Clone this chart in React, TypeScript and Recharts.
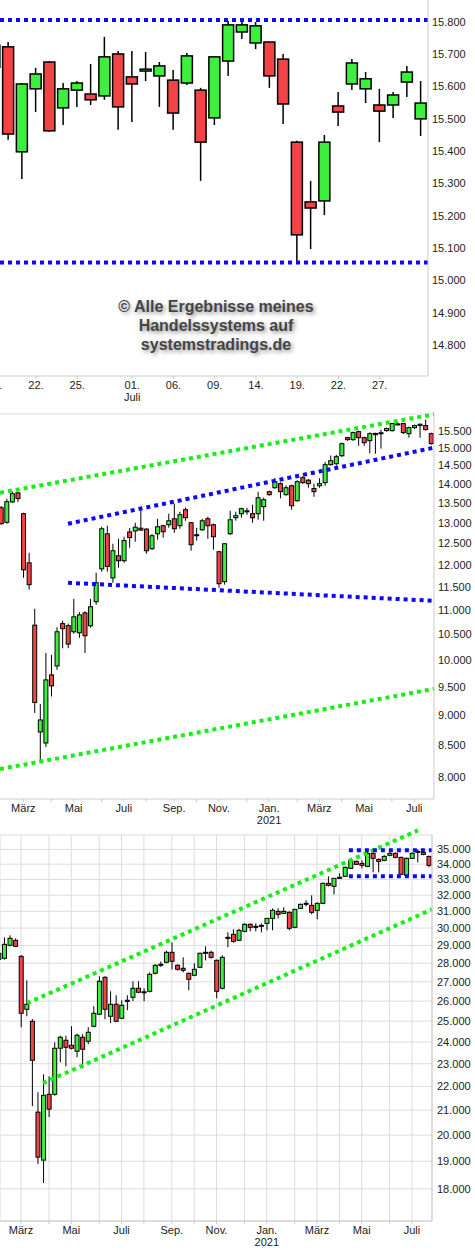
import React from 'react';
import { ComposedChart, Bar, XAxis, YAxis, ReferenceLine, CartesianGrid } from 'recharts';

const FONT = '"Liberation Sans", Arial, sans-serif';
const UP = '#3df03d';
const DOWN = '#f24444';
const BLUE = '#0a0af5';
const GREEN = '#14f014';
const AXIS = '#cccccc';

// DAX daily, index 0 = 17.06.2021 (only partly visible)
const dailyOHLC = [
  [15660, 15745, 15645, 15728], [15723, 15738, 15435, 15453], [15398, 15611, 15314, 15608],
  [15593, 15658, 15521, 15639], [15676, 15679, 15460, 15463], [15534, 15611, 15481, 15593],
  [15589, 15617, 15537, 15611], [15577, 15670, 15543, 15559], [15571, 15754, 15559, 15692],
  [15701, 15710, 15466, 15537], [15630, 15710, 15490, 15608], [15648, 15707, 15617, 15654],
  [15633, 15676, 15537, 15664], [15620, 15651, 15466, 15518], [15611, 15704, 15605, 15695],
  [15589, 15596, 15308, 15428], [15503, 15692, 15481, 15692], [15679, 15803, 15633, 15791],
  [15769, 15806, 15747, 15791], [15735, 15800, 15716, 15788], [15738, 15738, 15596, 15633],
  [15685, 15701, 15484, 15546], [15428, 15432, 15057, 15141], [15243, 15308, 15097, 15224],
  [15246, 15450, 15202, 15428], [15540, 15583, 15478, 15521], [15608, 15685, 15589, 15673],
  [15593, 15645, 15549, 15624], [15543, 15593, 15428, 15524], [15543, 15583, 15503, 15574],
  [15614, 15664, 15568, 15645], [15500, 15617, 15447, 15549],
];
const dailyTicks = [0, 3, 6, 10, 13, 16, 19, 22, 25, 28];
const dailyTickLabels = ['17.', '22.', '25.', '01.', '06.', '09.', '14.', '19.', '22.', '27.'];
const dailySubLabels = ['', '', '', 'Juli', '', '', '', '', '', ''];
const dailyYTicks = [14800, 14900, 15000, 15100, 15200, 15300, 15400, 15500, 15600, 15700, 15800];

// weekly charts, index 0 = week of 03.02.2020, first entry is week -1
const monthTicks = [3, 8, 12, 17, 21, 25, 30, 34, 38, 43, 47, 52, 56, 60, 64, 69, 73];
const monthLabels = ['März', '', 'Mai', '', 'Juli', '', 'Sep.', '', 'Nov.', '', 'Jan.', '', 'März', '', 'Mai', '', 'Juli'];
const yearLabels = ['', '', '', '', '', '', '', '', '', '', '2021', '', '', '', '', '', ''];

const daxWeeklyOHLC = [
  [13378, 13420, 12950, 12975], [13009, 13609, 12975, 13533], [13527, 13794, 13500, 13741],
  [13764, 13795, 13527, 13613], [13226, 13250, 11702, 11882], [12042, 12275, 11442, 11549],
  [10690, 11030, 9040, 9222], [8717, 9198, 8230, 8920], [8536, 10137, 8471, 9629],
  [9722, 10102, 9328, 9519], [9889, 10647, 9816, 10556], [10722, 10780, 10228, 10619],
  [10680, 10722, 10230, 10311], [10556, 11242, 10516, 10861], [10536, 10960, 10433, 10902],
  [10943, 10980, 10137, 10476], [10677, 11242, 10640, 11072], [11180, 11814, 11115, 11591],
  [11904, 12900, 11839, 12851], [12727, 12926, 11840, 11960], [11700, 12488, 11591, 12323],
  [12205, 12609, 11930, 12090], [12090, 12657, 12044, 12564], [12773, 12865, 12394, 12636],
  [12797, 13000, 12537, 12889], [12865, 13327, 12797, 12819], [12842, 12865, 12253, 12323],
  [12370, 12720, 12340, 12681], [12729, 13099, 12585, 12900], [12926, 12950, 12633, 12778],
  [12950, 13225, 12876, 13049], [13099, 13480, 12753, 12851], [12926, 13276, 12851, 13200],
  [13327, 13378, 13049, 13125], [13000, 13020, 12323, 12465], [12690, 12876, 12561, 12705],
  [12826, 13100, 12800, 13049], [13099, 13150, 12609, 12926], [12950, 12980, 12346, 12657],
  [12299, 12320, 11481, 11571], [11616, 12500, 11550, 12488], [12729, 13302, 12700, 13074],
  [13125, 13276, 13050, 13175], [13225, 13378, 13125, 13353], [13290, 13378, 13200, 13299],
  [13225, 13454, 13000, 13125], [13225, 13794, 13074, 13634], [13403, 13640, 13049, 13584],
  [13794, 13820, 13690, 13715], [13899, 14160, 13870, 14060], [14007, 14040, 13620, 13794],
  [13715, 13960, 13690, 13899], [13952, 13980, 13327, 13428], [13558, 14100, 13530, 14060],
  [14167, 14210, 14000, 14034], [14101, 14130, 13899, 14007], [13876, 14007, 13660, 13794],
  [13952, 14150, 13900, 14007], [14034, 14600, 13952, 14524], [14524, 14780, 14500, 14636],
  [14551, 14800, 14500, 14748], [14775, 15150, 14740, 15119], [15294, 15320, 15200, 15235],
  [15235, 15470, 15200, 15441], [15470, 15500, 15060, 15294], [15294, 15320, 15060, 15147],
  [15206, 15450, 14840, 15411], [15380, 15440, 14830, 15417], [15420, 15530, 14976, 15437],
  [15500, 15590, 15470, 15560], [15500, 15730, 15470, 15710], [15693, 15750, 15660, 15700],
  [15710, 15730, 15400, 15441], [15411, 15620, 15294, 15590], [15590, 15680, 15550, 15650],
  [15650, 15720, 15294, 15688], [15650, 15830, 15500, 15530], [15411, 15440, 15090, 15119],
];
const daxYTicks = [8000, 8500, 9000, 9500, 10000, 10500, 11000, 11500, 12000, 12500, 13000, 13500, 14000, 14500, 15000, 15500];

const dowWeeklyOHLC = [
  [28220, 28600, 28150, 28553], [28276, 29461, 28200, 29060], [29004, 29577, 28950, 29404],
  [29289, 29400, 28900, 28947], [28386, 28450, 24703, 25389], [25589, 27084, 25241, 25841],
  [24995, 25100, 21168, 23157], [20920, 21748, 18894, 19155], [19042, 22526, 18209, 21620],
  [21663, 22438, 20716, 21043], [21663, 23988, 21600, 23708], [23708, 24300, 23067, 24224],
  [24082, 24300, 22880, 23754], [23847, 24751, 23650, 23708], [23569, 24400, 23294, 24318],
  [24224, 24370, 22790, 23661], [24035, 24703, 23900, 24462], [24751, 25740, 24700, 25389],
  [25340, 27296, 25300, 27031], [27243, 27300, 25093, 25589], [25241, 26506, 24897, 25841],
  [25841, 26300, 24950, 24995], [25142, 26043, 25100, 25790], [25990, 26300, 25539, 26043],
  [26197, 27031, 25993, 26663], [26663, 27031, 26400, 26454], [26454, 26663, 25993, 26480],
  [26506, 27500, 26450, 27403], [27457, 27950, 27400, 27890], [27900, 28100, 27800, 27945],
  [28055, 28700, 28000, 28609], [28609, 29174, 27673, 28110], [27890, 27950, 27600, 27673],
  [27727, 28331, 27510, 27619], [27457, 27500, 26559, 27137], [27350, 28000, 27300, 27673],
  [27782, 28600, 27750, 28553], [28580, 28947, 28165, 28609], [28609, 28700, 28250, 28331],
  [28165, 28200, 26146, 26506], [26663, 28442, 26600, 28331], [29400, 29751, 28890, 29461],
  [29635, 29926, 29150, 29232], [29289, 29950, 29250, 29868], [29810, 30280, 29750, 30220],
  [30220, 30280, 29810, 30044], [30080, 30280, 29810, 30102], [30130, 30280, 29751, 30161],
  [30280, 30600, 29868, 30577], [30577, 31182, 29868, 31060], [31000, 31182, 30577, 30818],
  [30878, 31243, 30850, 31000], [30939, 31000, 29868, 29985], [30044, 31150, 30000, 31121],
  [31182, 31480, 31150, 31427], [31430, 31674, 31304, 31488], [31365, 31986, 30818, 30939],
  [31060, 31550, 30517, 31488], [31488, 32800, 31450, 32748], [32748, 33200, 32550, 32620],
  [32556, 33100, 32048, 33070], [33100, 33395, 33050, 33135], [33200, 33850, 33150, 33787],
  [33722, 34300, 33680, 34255], [34188, 34250, 33950, 33987], [34054, 34255, 33722, 33921],
  [33855, 34932, 33800, 34727], [34727, 34932, 33461, 34389], [34322, 34389, 33461, 34188],
  [34255, 34600, 34200, 34524], [34592, 34863, 34550, 34727], [34727, 34800, 34389, 34457],
  [34457, 34500, 33290, 33330], [33265, 34450, 33220, 34389], [34389, 34800, 34350, 34727],
  [34800, 35000, 34121, 34863], [34795, 34900, 34600, 34659], [34524, 34560, 33800, 33921],
];
const dowYTicks = [18000, 19000, 20000, 21000, 22000, 23000, 24000, 25000, 26000, 27000, 28000, 29000, 30000, 31000, 32000, 33000, 34000, 35000, 36000];

const toRows = (ohlc: number[][], first: number) =>
  ohlc.map(([o, h, l, c], i) => ({ x: first + i, o, h, l, c }));

const dailyData = toRows(dailyOHLC, 0);
const daxData = toRows(daxWeeklyOHLC, -1);
const dowData = toRows(dowWeeklyOHLC, -1);

const fmt = (v: number) => (v >= 36000 ? '' : (v / 1000).toFixed(3));
const range = (d: any) => [d.l, d.h];

const Candle = (props: any) => {
  const { x, y, width, height, payload, log, lw } = props;
  const { o, h, l, c } = payload;
  const toY = (v: number) => {
    if (h === l) return y;
    const t = log ? (Math.log(h) - Math.log(v)) / (Math.log(h) - Math.log(l)) : (h - v) / (h - l);
    return y + t * height;
  };
  const cx = x + width / 2;
  const top = toY(Math.max(o, c));
  const bottom = toY(Math.min(o, c));
  return (
    <g>
      <line x1={cx} x2={cx} y1={y} y2={y + height} stroke="#000" strokeWidth={lw} />
      <rect x={x} y={top} width={width} height={Math.max(bottom - top, 1)} fill={c >= o ? UP : DOWN} stroke="#000" strokeWidth={lw} />
    </g>
  );
};

const DateTick = (props: any) => {
  const { x, y, payload, ticks, labels, subs } = props;
  const i = ticks.indexOf(payload.value);
  const style = { fontSize: 11, fill: '#222', fontFamily: FONT };
  return (
    <g>
      <text x={x} y={y + 8} textAnchor="middle" {...style}>{labels[i]}</text>
      {subs[i] ? <text x={x} y={y + 20} textAnchor="middle" {...style}>{subs[i]}</text> : null}
    </g>
  );
};

const yTick = { fontSize: 11, fill: '#222', fontFamily: FONT };
const dots = { strokeWidth: 4, strokeDasharray: '4 4', ifOverflow: 'visible' as const };

export default function App() {
  return (
    <div style={{ position: 'absolute', left: 0, top: 0, width: 475, height: 1250, background: '#fff' }}>
      <div style={{ position: 'absolute', left: 0, top: 0 }}>
        <ComposedChart width={475} height={405} data={dailyData} margin={{ top: 0, right: 0, bottom: 0, left: 0 }}>
          <XAxis dataKey="x" type="number" domain={[0.382, 31.51]} allowDataOverflow ticks={dailyTicks} interval={0}
            height={29} tickSize={3} tickMargin={2} stroke={AXIS}
            tick={(p: any) => <DateTick {...p} ticks={dailyTicks} labels={dailyTickLabels} subs={dailySubLabels} />} />
          <YAxis orientation="right" type="number" domain={[14704, 15868]} allowDataOverflow ticks={dailyYTicks} interval={0}
            width={47} tickLine={false} tickSize={0} tickMargin={4} axisLine={{ stroke: AXIS }} tickFormatter={fmt} tick={yTick} />
          <Bar dataKey={range} barSize={11} isAnimationActive={false}
            shape={(p: any) => <Candle {...p} log={false} lw={1.5} />} />
          <ReferenceLine y={15806} stroke={BLUE} {...dots} />
          <ReferenceLine y={15055} stroke={BLUE} {...dots} />
        </ComposedChart>
      </div>

      <div style={{ position: 'absolute', left: 0, top: 297, width: 432, textAlign: 'center', fontFamily: FONT, fontWeight: 'bold',
        fontSize: 16, lineHeight: '19px', color: '#454545', textShadow: '2px 2px 4px rgba(0,0,0,0.45)' }}>
        © Alle Ergebnisse meines<br />Handelssystems auf<br />systemstradings.de
      </div>

      <div style={{ position: 'absolute', left: 0, top: 410 }}>
        <ComposedChart width={475} height={419} data={daxData} margin={{ top: 4, right: 0, bottom: 0, left: 0 }}>
          <XAxis dataKey="x" type="number" domain={[-1.18, 76.53]} allowDataOverflow ticks={monthTicks} interval={0}
            height={30} tickSize={3} tickMargin={2} stroke={AXIS}
            tick={(p: any) => <DateTick {...p} ticks={monthTicks} labels={monthLabels} subs={yearLabels} />} />
          <YAxis orientation="right" type="number" scale="log" domain={[7670, 16000]} allowDataOverflow ticks={daxYTicks} interval={0}
            width={41} tickLine={false} tickSize={0} tickMargin={4} axisLine={{ stroke: AXIS }} tickFormatter={fmt} tick={yTick} />
          <ReferenceLine y={16000} stroke="#dddddd" strokeWidth={1} />
          <Bar dataKey={range} barSize={4} isAnimationActive={false}
            shape={(p: any) => <Candle {...p} log lw={1} />} />
          <ReferenceLine segment={[{ x: -1.18, y: 13767 }, { x: 76.53, y: 15990 }]} stroke={GREEN} {...dots} />
          <ReferenceLine segment={[{ x: -1.18, y: 8122 }, { x: 76.53, y: 9465 }]} stroke={GREEN} {...dots} />
          <ReferenceLine segment={[{ x: 11.0, y: 12975 }, { x: 76.53, y: 15004 }]} stroke={BLUE} {...dots} />
          <ReferenceLine segment={[{ x: 11.0, y: 11591 }, { x: 76.53, y: 11199 }]} stroke={BLUE} {...dots} />
        </ComposedChart>
      </div>

      <div style={{ position: 'absolute', left: 0, top: 820 }}>
        <ComposedChart width={475} height={430} data={dowData} margin={{ top: 15, right: 0, bottom: 0, left: 0 }}>
          <CartesianGrid stroke="#dcdcdc" />
          <XAxis dataKey="x" type="number" domain={[-0.76, 76.58]} allowDataOverflow ticks={monthTicks} interval={0}
            height={29} tickSize={3} tickMargin={2} stroke={AXIS}
            tick={(p: any) => <DateTick {...p} ticks={monthTicks} labels={monthLabels} subs={yearLabels} />} />
          <YAxis orientation="right" type="number" scale="log" domain={[16902, 36000]} allowDataOverflow ticks={dowYTicks} interval={0}
            width={43} tickLine={false} tickSize={0} tickMargin={5} axisLine={{ stroke: AXIS }} tickFormatter={fmt} tick={yTick} />
          <Bar dataKey={range} barSize={4} isAnimationActive={false}
            shape={(p: any) => <Candle {...p} log lw={1} />} />
          <ReferenceLine segment={[{ x: 4.07, y: 25893 }, { x: 74.07, y: 36326 }]} stroke={GREEN} {...dots} />
          <ReferenceLine segment={[{ x: 6.94, y: 22141 }, { x: 76.58, y: 31122 }]} stroke={GREEN} {...dots} />
          <ReferenceLine segment={[{ x: 61.7, y: 34932 }, { x: 76.58, y: 34932 }]} stroke={BLUE} {...dots} />
          <ReferenceLine segment={[{ x: 61.7, y: 33199 }, { x: 76.58, y: 33199 }]} stroke={BLUE} {...dots} />
        </ComposedChart>
      </div>
    </div>
  );
}
